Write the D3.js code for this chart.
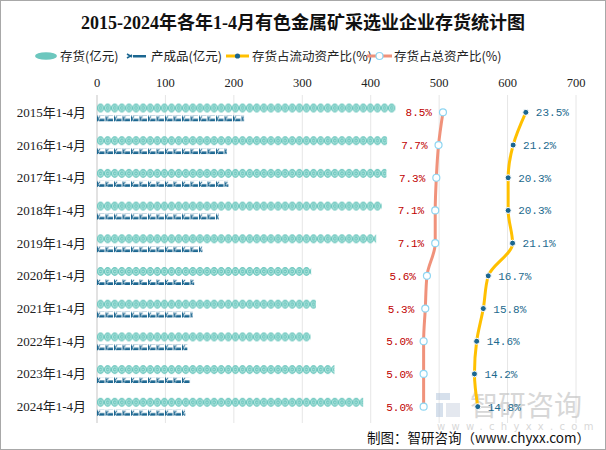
<!DOCTYPE html>
<html>
<head>
<meta charset="utf-8">
<script src="https://cdn.jsdelivr.net/npm/d3@7/dist/d3.min.js"></script>
<style>
  html, body { margin: 0; padding: 0; background: #fff; }
  svg { display: block; }
  .serif { font-family: "Liberation Serif", "Noto Sans CJK SC", serif; }
  .mono { font-family: "Liberation Mono", "DejaVu Sans Mono", monospace; }
</style>
</head>
<body>
<svg id="chart" width="606" height="450"></svg>
<script>
// chart data
const categories = ["2015年1-4月", "2016年1-4月", "2017年1-4月", "2018年1-4月", "2019年1-4月",
  "2020年1-4月", "2021年1-4月", "2022年1-4月", "2023年1-4月", "2024年1-4月"];
const inventory = [436, 424, 423, 416, 408, 313, 320, 312, 347, 389];      // 存货(亿元)
const finishedGoods = [215, 190, 192, 178, 154, 142, 140, 132, 136, 129];  // 产成品(亿元)
const ratioCurrent = [23.5, 21.2, 20.3, 20.3, 21.1, 16.7, 15.8, 14.6, 14.2, 14.8]; // 存货占流动资产比(%)
const ratioTotal = [8.5, 7.7, 7.3, 7.1, 7.1, 5.6, 5.3, 5.0, 5.0, 5.0];          // 存货占总资产比(%)
const xTicks = [0, 100, 200, 300, 400, 500, 600, 700];

const W = 606, H = 450;
const svg = d3.select("#chart");

const x = d3.scaleLinear().domain([0, 700]).range([97, 576]);
const xPct = d3.scaleLinear().domain([0, 32.4]).range([396, 575]); // hidden secondary axis
const y = d3.scaleBand().domain(categories).range([96, 423]);

const teal = "#6cc7be", navy = "#1b6690", yellow = "#ffc000", salmon = "#f0927b";

// border
svg.append("rect").attr("x", 0.5).attr("y", 0.5).attr("width", W - 1).attr("height", H - 1)
  .attr("fill", "#fff").attr("stroke", "#a8a8a8");

const defs = svg.append("defs");
const invTop = i => y(categories[i]) + 7.5;
const finTop = i => y(categories[i]) + 19.5;

// one pattern per row so the symbols line up with each bar
categories.forEach((c, i) => {
  const pInv = defs.append("pattern").attr("id", "pInv" + i).attr("patternUnits", "userSpaceOnUse")
    .attr("x", x(0)).attr("y", invTop(i)).attr("width", 7.1).attr("height", 9);
  pInv.append("ellipse").attr("cx", 3.55).attr("cy", 4.5).attr("rx", 3.7).attr("ry", 4.4).attr("fill", teal);
  pInv.append("ellipse").attr("cx", 3.55).attr("cy", 4.5).attr("rx", 2.2).attr("ry", 2.6)
    .attr("fill", "none").attr("stroke", "#b5e6e0").attr("stroke-width", 0.9);
  pInv.append("circle").attr("cx", 3.55).attr("cy", 4.5).attr("r", 0.8).attr("fill", "#b5e6e0");

  const pFin = defs.append("pattern").attr("id", "pFin" + i).attr("patternUnits", "userSpaceOnUse")
    .attr("x", x(0)).attr("y", finTop(i)).attr("width", 8.5).attr("height", 6);
  pFin.append("path").attr("d", "M0.5,0.5 L0.5,6 M0.8,3.5 L3,0.8 M0.8,3.5 L3,6")
    .attr("stroke", navy).attr("stroke-width", 1).attr("fill", "none");
  pFin.append("rect").attr("x", 2.5).attr("y", 3.3).attr("width", 5).attr("height", 2.7).attr("fill", navy);
});

// title
svg.append("text").attr("class", "serif").attr("x", W / 2).attr("y", 29)
  .attr("text-anchor", "middle").attr("font-size", 18).attr("font-weight", "bold").attr("fill", "#111")
  .text("2015-2024年各年1-4月有色金属矿采选业企业存货统计图");

// legend
const lg = svg.append("g").attr("font-family", "Noto Sans CJK SC, sans-serif").attr("font-size", 12.5).attr("fill", "#222");
const ly = 56;
lg.append("ellipse").attr("cx", 46).attr("cy", ly).attr("rx", 11).attr("ry", 3.8).attr("fill", teal);
lg.append("text").attr("x", 60).attr("y", ly + 4.5).text("存货(亿元)");
lg.append("path").attr("d", `M127,${ly - 2} L132,${ly + 1} M127,${ly + 2} L132,${ly - 1}`)
  .attr("stroke", navy).attr("stroke-width", 1.5);
lg.append("rect").attr("x", 133).attr("y", ly - 1).attr("width", 13).attr("height", 2.5).attr("fill", navy);
lg.append("text").attr("x", 151).attr("y", ly + 4.5).text("产成品(亿元)");
lg.append("line").attr("x1", 226).attr("x2", 249).attr("y1", ly).attr("y2", ly).attr("stroke", yellow).attr("stroke-width", 3);
lg.append("circle").attr("cx", 237.5).attr("cy", ly).attr("r", 2.6).attr("fill", navy);
lg.append("text").attr("x", 252).attr("y", ly + 4.5).text("存货占流动资产比(%)");
lg.append("line").attr("x1", 367).attr("x2", 392).attr("y1", ly).attr("y2", ly).attr("stroke", salmon).attr("stroke-width", 3);
lg.append("circle").attr("cx", 379.5).attr("cy", ly).attr("r", 3.5).attr("fill", "#fff").attr("stroke", "#8fd6f2").attr("stroke-width", 1.2);
lg.append("text").attr("x", 394).attr("y", ly + 4.5).text("存货占总资产比(%)");

// grid + top axis labels
svg.append("g").selectAll("line").data(xTicks.slice(1)).join("line")
  .attr("x1", d => x(d)).attr("x2", d => x(d)).attr("y1", 95).attr("y2", 423)
  .attr("stroke", "#e6e6e6").attr("stroke-width", 1);
svg.append("g").selectAll("text").data(xTicks).join("text")
  .attr("class", "serif").attr("x", d => x(d)).attr("y", 87).attr("text-anchor", "middle")
  .attr("font-size", 12.5).attr("fill", "#222").text(d => d);
svg.append("line").attr("x1", x(0)).attr("x2", x(0)).attr("y1", 95).attr("y2", 423)
  .attr("stroke", "#cfcfcf").attr("stroke-width", 1.2);

// category labels
svg.append("g").selectAll("text").data(categories).join("text")
  .attr("class", "serif").attr("x", 86).attr("y", d => y(d) + y.bandwidth() / 2 + 4.5)
  .attr("text-anchor", "end").attr("font-size", 13).attr("fill", "#222").text(d => d);

// watermark
const wm = svg.append("g").attr("opacity", 0.55);
wm.append("rect").attr("x", 436).attr("y", 393).attr("width", 14).attr("height", 7).attr("fill", "#b5c7de");
wm.append("rect").attr("x", 436).attr("y", 403).attr("width", 7).attr("height", 14).attr("fill", "#b5c7de");
wm.append("rect").attr("x", 446).attr("y", 403).attr("width", 14).attr("height", 14).attr("fill", "#cfd7e3");
wm.append("text").attr("x", 470).attr("y", 416).attr("font-family", "Noto Sans CJK SC, sans-serif")
  .attr("font-size", 28).attr("fill", "#b8b8b8").text("智研咨询");
wm.append("text").attr("x", 437).attr("y", 430).attr("font-family", "DejaVu Sans, sans-serif")
  .attr("font-size", 10).attr("letter-spacing", 6.3).attr("fill", "#b8b8b8").text("www.chyxx.com");

// bars
svg.append("g").selectAll("rect").data(inventory).join("rect")
  .attr("x", x(0)).attr("y", (d, i) => invTop(i))
  .attr("width", d => x(d) - x(0)).attr("height", 9).attr("fill", (d, i) => `url(#pInv${i})`);
svg.append("g").selectAll("rect").data(finishedGoods).join("rect")
  .attr("x", x(0)).attr("y", (d, i) => finTop(i))
  .attr("width", d => x(d) - x(0)).attr("height", 6).attr("fill", (d, i) => `url(#pFin${i})`);

const cy = i => y(categories[i]) + y.bandwidth() / 2;

// 存货占总资产比
const lineTot = d3.line().x(d => xPct(d)).y((d, i) => cy(i)).curve(d3.curveMonotoneY);
svg.append("path").attr("d", lineTot(ratioTotal)).attr("fill", "none")
  .attr("stroke", salmon).attr("stroke-width", 3);
svg.append("g").selectAll("circle").data(ratioTotal).join("circle")
  .attr("cx", d => xPct(d)).attr("cy", (d, i) => cy(i)).attr("r", 3.5)
  .attr("fill", "#fff").attr("stroke", "#8fd6f2").attr("stroke-width", 1.2);
svg.append("g").selectAll("text").data(ratioTotal).join("text")
  .attr("class", "mono").attr("x", d => xPct(d) - 11).attr("y", (d, i) => cy(i) + 4)
  .attr("text-anchor", "end").attr("font-size", 11).attr("fill", "#c00000").text(d => d.toFixed(1) + "%");

// 存货占流动资产比
const lineCur = d3.line().x(d => xPct(d)).y((d, i) => cy(i)).curve(d3.curveMonotoneY);
svg.append("path").attr("d", lineCur(ratioCurrent)).attr("fill", "none")
  .attr("stroke", yellow).attr("stroke-width", 3);
svg.append("g").selectAll("circle").data(ratioCurrent).join("circle")
  .attr("cx", d => xPct(d)).attr("cy", (d, i) => cy(i)).attr("r", 3)
  .attr("fill", navy).attr("stroke", "#fff").attr("stroke-width", 1);
svg.append("g").selectAll("text").data(ratioCurrent).join("text")
  .attr("class", "mono").attr("x", d => xPct(d) + 10).attr("y", (d, i) => cy(i) + 4)
  .attr("font-size", 11).attr("fill", "#1d6a8e").text(d => d.toFixed(1) + "%");

// source
svg.append("text").attr("x", 590).attr("y", 443).attr("text-anchor", "end")
  .attr("font-family", "Noto Sans CJK SC, sans-serif").attr("font-size", 13.5).attr("fill", "#111")
  .text("制图：智研咨询（www.chyxx.com）");
</script>
</body>
</html>
